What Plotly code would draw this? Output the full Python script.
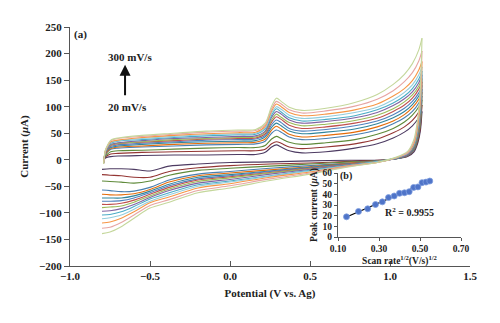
import numpy as np
import plotly.graph_objects as go

# Scan rates (mV/s), innermost to outermost voltammogram
scan_rates = [20, 40, 60, 80, 100, 120, 140, 160, 180, 200, 220, 240, 260, 280, 300]

# Potential grid (V) of the anodic sweep (-0.8 -> 1.2 V) and cathodic sweep (1.2 -> -0.8 V)
anodic_potential = [-0.79, -0.78, -0.765, -0.745, -0.70, -0.55, -0.35, -0.15, 0.05, 0.16,
                    0.22, 0.26, 0.29, 0.32, 0.37, 0.45, 0.60, 0.78, 0.92, 1.02, 1.09,
                    1.14, 1.18, 1.20]
cathodic_potential = [1.20, 1.19, 1.175, 1.15, 1.11, 1.04, 0.92, 0.75, 0.50, 0.25, 0.00,
                      -0.20, -0.38, -0.50, -0.60, -0.68, -0.75, -0.80]

# Current (uA) on the anodic sweep, one row per scan rate
anodic_current = [
    [-3, 3, 5, 6, 7, 8, 9, 9, 10, 10, 14, 24, 28, 24, 17, 13, 15, 22, 30, 41, 52, 64, 79, 91],
    [-4, 5, 8, 11, 12, 14, 15, 16, 17, 17, 20, 30, 34, 31, 24, 21, 24, 30, 39, 51, 62, 74, 90, 103],
    [-4, 7, 11, 15, 17, 18, 20, 22, 23, 23, 27, 39, 44, 40, 33, 29, 32, 38, 48, 59, 71, 84, 100, 113],
    [-5, 9, 15, 20, 22, 24, 26, 28, 29, 30, 35, 50, 56, 52, 43, 38, 40, 47, 56, 68, 79, 91, 107, 120],
    [-5, 10, 16, 21, 24, 26, 29, 31, 32, 33, 39, 56, 63, 58, 48, 43, 46, 52, 62, 73, 85, 98, 114, 127],
    [-5, 11, 18, 23, 26, 29, 32, 34, 35, 36, 43, 61, 69, 64, 54, 49, 52, 58, 68, 79, 91, 104, 120, 133],
    [-6, 12, 19, 25, 28, 31, 34, 37, 38, 39, 46, 66, 75, 70, 59, 54, 57, 64, 73, 85, 97, 110, 126, 140],
    [-6, 12, 20, 27, 30, 33, 36, 39, 40, 41, 49, 71, 81, 76, 65, 59, 62, 69, 78, 91, 103, 116, 133, 147],
    [-6, 13, 21, 28, 31, 34, 38, 40, 42, 43, 52, 75, 86, 80, 70, 64, 67, 74, 84, 96, 109, 122, 139, 153],
    [-6, 13, 22, 29, 32, 36, 40, 42, 44, 45, 54, 80, 91, 86, 75, 69, 72, 79, 89, 102, 115, 128, 145, 160],
    [-7, 14, 24, 31, 35, 38, 42, 45, 47, 48, 58, 84, 96, 90, 79, 73, 76, 83, 94, 107, 120, 134, 152, 167],
    [-7, 15, 25, 33, 36, 40, 44, 47, 49, 50, 60, 88, 100, 95, 84, 78, 81, 89, 99, 113, 127, 141, 160, 175],
    [-7, 16, 26, 34, 37, 42, 46, 49, 51, 52, 63, 92, 105, 100, 89, 83, 86, 94, 105, 120, 134, 149, 169, 185],
    [-8, 16, 27, 36, 40, 44, 48, 52, 54, 55, 66, 96, 110, 105, 94, 88, 92, 101, 114, 130, 147, 164, 186, 205],
    [-8, 17, 28, 37, 41, 46, 50, 54, 56, 57, 69, 101, 116, 110, 99, 93, 97, 108, 123, 142, 161, 181, 207, 229],
]

# Current (uA) on the cathodic sweep, one row per scan rate
cathodic_current = [
    [91, 55, 33, 15, 6, 2, -1, -1, -2, -4, -5, -8, -12, -21, -18, -17, -17, -18],
    [103, 62, 37, 18, 7, 2, -1, -3, -6, -8, -11, -15, -22, -33, -33, -30, -29, -28],
    [113, 68, 41, 19, 8, 2, -2, -4, -8, -12, -16, -20, -29, -40, -44, -42, -41, -40],
    [120, 72, 43, 20, 8, 2, -2, -6, -11, -16, -22, -27, -38, -52, -59, -60, -58, -57],
    [127, 76, 46, 22, 9, 3, -3, -6, -13, -19, -25, -30, -42, -56, -64, -66, -66, -65],
    [133, 80, 48, 23, 9, 3, -3, -7, -14, -21, -28, -33, -46, -59, -68, -72, -72, -72],
    [140, 84, 50, 24, 10, 3, -3, -8, -15, -22, -30, -36, -49, -62, -72, -77, -78, -78],
    [147, 88, 53, 25, 10, 3, -3, -8, -16, -24, -32, -38, -52, -65, -76, -82, -84, -84],
    [153, 92, 55, 26, 11, 3, -3, -9, -17, -25, -34, -41, -55, -68, -80, -87, -89, -90],
    [160, 96, 58, 27, 11, 3, -4, -9, -18, -27, -37, -44, -58, -71, -84, -92, -96, -97],
    [167, 100, 60, 28, 12, 3, -4, -10, -20, -30, -40, -47, -62, -74, -88, -98, -103, -104],
    [175, 105, 63, 30, 12, 4, -4, -11, -21, -31, -42, -50, -66, -78, -93, -104, -109, -111],
    [185, 111, 67, 31, 13, 4, -5, -11, -23, -33, -45, -53, -70, -81, -98, -110, -117, -119],
    [205, 123, 74, 35, 14, 4, -5, -12, -25, -36, -49, -58, -75, -86, -104, -118, -127, -129],
    [229, 137, 82, 39, 16, 5, -5, -13, -27, -39, -53, -62, -80, -91, -110, -126, -136, -139],
]

curve_colors = ["#4d3b62", "#943634", "#5f8a3a", "#4a7fb0", "#e46c0a", "#31859c",
                "#4f81bd", "#c0504d", "#9bbb59", "#8064a2", "#4bacc6", "#93cddd",
                "#f79646", "#e6a5a3", "#c4d79b"]

# Inset: anodic peak current vs square root of scan rate
peak_current = [19, 24, 26.5, 30.5, 33, 37, 38.5, 41, 41.5, 42.5, 46.5, 47, 51, 51.5, 52.5]
r_squared_label = "R<sup>2</sup> = 0.9955"

# Axis ticks
potential_ticks = [-1.0, -0.5, 0.0, 0.5, 1.0, 1.5]
current_ticks = [-200, -150, -100, -50, 0, 50, 100, 150, 200, 250]
sqrt_rate_ticks = [0.10, 0.30, 0.50, 0.70]
peak_ticks = [0, 10, 20, 30, 40, 50, 60]


def bold_labels(values, fmt):
    return ["<b>" + format(v, fmt).replace("-", "\u2212") + "</b>" for v in values]


serif = "Liberation Serif"
axis_color = "#555555"
ink = "#222222"

fig = go.Figure()

for k in range(len(scan_rates)):
    for pot, cur in ((anodic_potential, anodic_current[k]),
                     (cathodic_potential, cathodic_current[k])):
        fig.add_trace(go.Scatter(
            x=pot, y=cur, mode="lines",
            line=dict(color=curve_colors[k], width=1.1, shape="spline", smoothing=0.8),
            showlegend=False, hoverinfo="skip", xaxis="x", yaxis="y"))

sqrt_rate = np.sqrt(np.array(scan_rates) / 1000.0)
slope, intercept = np.polyfit(sqrt_rate, peak_current, 1)
fit_x = np.array([sqrt_rate.min(), sqrt_rate.max()])

fig.add_trace(go.Scatter(
    x=fit_x, y=slope * fit_x + intercept, mode="lines",
    line=dict(color="black", width=1.2), showlegend=False,
    xaxis="x2", yaxis="y2"))
fig.add_trace(go.Scatter(
    x=sqrt_rate, y=peak_current, mode="markers",
    marker=dict(color="#4f74c8", size=6, line=dict(color="#7f9ee0", width=0.8)),
    showlegend=False, xaxis="x2", yaxis="y2"))

tick_font = dict(family=serif, size=11, color=ink)
small_font = dict(family=serif, size=9.5, color=ink)

fig.update_layout(
    width=500, height=323,
    margin=dict(l=70, r=30, t=27, b=57),
    paper_bgcolor="white", plot_bgcolor="white",
    xaxis=dict(
        domain=[0, 1], range=[-1.0, 1.5],
        tickvals=potential_ticks, ticktext=bold_labels(potential_ticks, ".1f"),
        showgrid=False, zeroline=False, showline=True, linecolor=axis_color, linewidth=1,
        ticks="inside", ticklen=5, tickcolor=axis_color, tickfont=tick_font,
        title=dict(text="<b>Potential (V vs. Ag)</b>", font=tick_font, standoff=8),
        anchor="y"),
    yaxis=dict(
        domain=[0, 1], range=[-200, 250],
        tickvals=current_ticks, ticktext=bold_labels(current_ticks, "d"),
        showgrid=False, zeroline=False, showline=True, linecolor=axis_color, linewidth=1,
        ticks="outside", ticklen=5, tickcolor=axis_color, tickfont=tick_font,
        title=dict(text="<b>Current (<i>μ</i>A)</b>", font=tick_font, standoff=8),
        anchor="x"),
    xaxis2=dict(
        domain=[0.67, 0.9775], range=[0.1, 0.7],
        tickvals=sqrt_rate_ticks, ticktext=bold_labels(sqrt_rate_ticks, ".2f"),
        showgrid=False, zeroline=False, showline=True,
        linecolor=axis_color, linewidth=1, ticks="outside", ticklen=3,
        tickcolor=axis_color, tickfont=small_font,
        title=dict(text="<b>Scan rate<sup>1/2</sup>(V/s)<sup>1/2</sup></b>",
                   font=small_font, standoff=0),
        anchor="y2"),
    yaxis2=dict(
        domain=[0.121, 0.389], range=[0, 60],
        tickvals=peak_ticks, ticktext=bold_labels(peak_ticks, "d"),
        showgrid=False, zeroline=False, showline=True,
        linecolor=axis_color, linewidth=1, ticks="outside", ticklen=3,
        tickcolor=axis_color, tickfont=small_font,
        title=dict(text="<b>Peak current (<i>μ</i>A)</b>", font=small_font, standoff=3),
        anchor="x2"),
)

annotations = [
    dict(x=-0.934, y=235, xref="x", yref="y", text="<b>(a)</b>", showarrow=False,
         font=tick_font),
    dict(x=-0.625, y=194, xref="x", yref="y", text="<b>300 mV/s</b>", showarrow=False,
         font=tick_font),
    dict(x=-0.64, y=100, xref="x", yref="y", text="<b>20 mV/s</b>", showarrow=False,
         font=tick_font),
    dict(x=-0.656, y=179, xref="x", yref="y", ax=0, ay=32, axref="pixel", ayref="pixel",
         text="", showarrow=True, arrowhead=2, arrowsize=1.1, arrowwidth=2,
         arrowcolor="#111111"),
    dict(x=0.137, y=57, xref="x2", yref="y2", text="<b>(b)</b>", showarrow=False,
         font=dict(family=serif, size=10, color=ink)),
    dict(x=0.451, y=23.5, xref="x2", yref="y2", text="<b>" + r_squared_label + "</b>",
         showarrow=False, font=dict(family=serif, size=10, color=ink)),
]
fig.update_layout(annotations=annotations)

fig.write_html("out.html")
